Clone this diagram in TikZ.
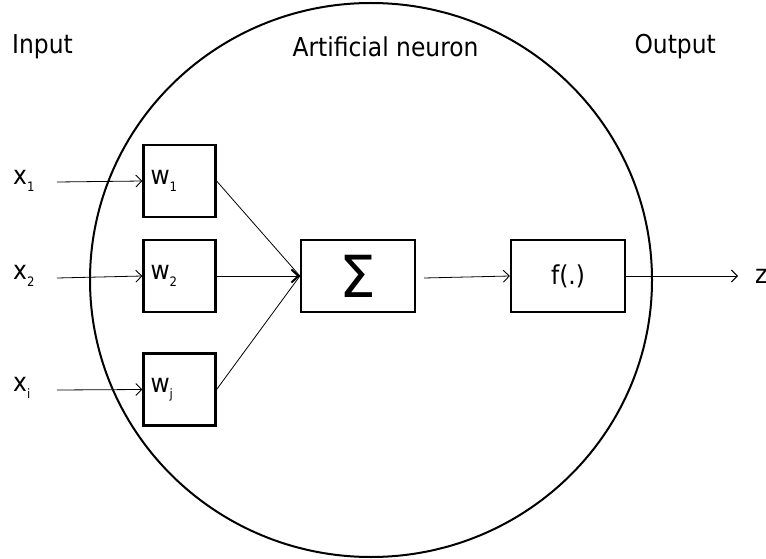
\documentclass[tikz,border=0pt]{standalone}
\usepackage{fontspec}
\setmainfont{DejaVu Sans Condensed}
\newfontfamily\sigmafont{DejaVu Sans}
\usetikzlibrary{arrows.meta}
\newcommand{\subtxt}[1]{\raisebox{-0.45ex}{\fontsize{13}{13}\selectfont #1}}
\begin{document}
\begin{tikzpicture}[x=1pt,y=-1pt,
  font=\fontsize{26}{29}\selectfont,
  box/.style={draw,line width=2.2pt,inner sep=0pt},
  wbox/.style={box,minimum width=69pt,minimum height=72pt,text width=58pt,align=left,inner xsep=7pt},
  lbl/.style={inner sep=0pt},
  conn/.style={line width=0.8pt,-{Straight Barb[length=6pt,width=12pt,line width=0.9pt]}},
  plain/.style={line width=0.8pt}]
\useasboundingbox (0,0) rectangle (766,559);
% neuron circle
\draw[line width=2pt] (371,280) ellipse [x radius=281, y radius=277];
% titles
\node[lbl,anchor=west] (tin) at (12,47) {Input};
\node[lbl] (tneu) at (385.5,47) {Artificial neuron};
\node[lbl,anchor=east] (tout) at (716,47) {Output};
% weight boxes
\node[wbox] (w1) at (179.5,181) {w\subtxt{1}};
\node[wbox] (w2) at (179.5,276) {w\subtxt{2}};
\node[wbox] (wj) at (179.5,389.5) {w\subtxt{j}};
% sum and activation
\node[box,minimum width=114pt,minimum height=72pt] (sum) at (358,276) {\sigmafont\fontsize{58}{58}\selectfont\raisebox{-0.06em}{Σ}};
\node[box,minimum width=114pt,minimum height=72pt] (f) at (568,276) {f(.)};
% inputs
\node[lbl,anchor=west] (x1) at (13,181) {x\subtxt{1}};
\node[lbl,anchor=west] (x2) at (13,276) {x\subtxt{2}};
\node[lbl,anchor=west] (xi) at (13,388) {x\subtxt{i}};
\node[lbl,anchor=west] (z) at (755,276) {z};
\coordinate (a1) at (57,182);
\coordinate (a2) at (57,278);
\coordinate (ai) at (57,390);
\coordinate (s0) at (424,278);
\coordinate (zend) at (738,276);
\draw[conn] (a1) -- (w1.west);
\draw[conn] (a2) -- (w2.west);
\draw[conn] (ai) -- (wj.west);
\draw[plain] (w1.east) -- (sum.west);
\draw[plain] (wj.east) -- (sum.west);
\draw[line width=0.8pt,-{Straight Barb[length=7pt,width=13pt,line width=2pt]}] (w2.east) -- (sum.west);
\draw[conn] (s0) -- (f.west);
\draw[conn] (f.east) -- (zend);
\end{tikzpicture}
\end{document}
